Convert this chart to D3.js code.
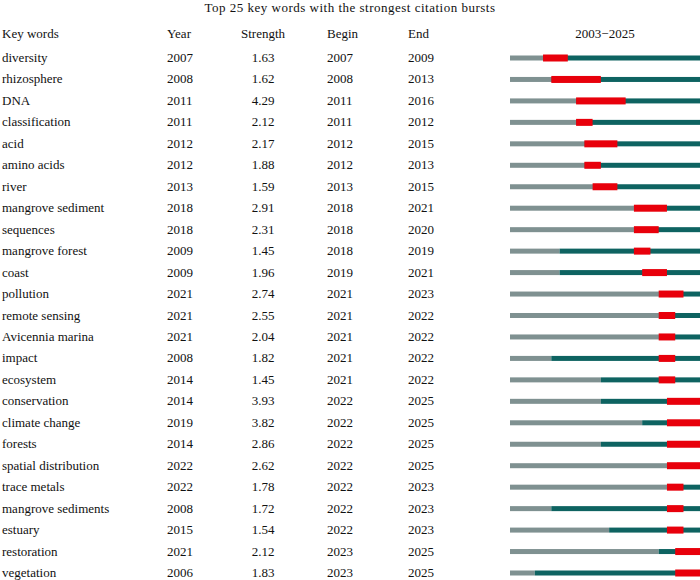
<!DOCTYPE html><html><head><meta charset="utf-8"><script src="https://cdn.jsdelivr.net/npm/d3@7"></script>
<style>body{margin:0;background:#fff}text{font-family:"Liberation Serif","Times New Roman",serif;font-size:13px;fill:#111}</style></head><body>
<script>
const keywords=["diversity","rhizosphere","DNA","classification","acid","amino acids","river","mangrove sediment","sequences","mangrove forest","coast","pollution","remote sensing","Avicennia marina","impact","ecosystem","conservation","climate change","forests","spatial distribution","trace metals","mangrove sediments","estuary","restoration","vegetation"];
const years=[2007,2008,2011,2011,2012,2012,2013,2018,2018,2009,2009,2021,2021,2021,2008,2014,2014,2019,2014,2022,2022,2008,2015,2021,2006];
const strengths=["1.63","1.62","4.29","2.12","2.17","1.88","1.59","2.91","2.31","1.45","1.96","2.74","2.55","2.04","1.82","1.45","3.93","3.82","2.86","2.62","1.78","1.72","1.54","2.12","1.83"];
const begins=[2007,2008,2011,2011,2012,2012,2013,2018,2018,2018,2019,2021,2021,2021,2021,2021,2022,2022,2022,2022,2022,2022,2022,2023,2023];
const ends=[2009,2013,2016,2012,2015,2013,2015,2021,2020,2019,2021,2023,2022,2022,2022,2022,2025,2025,2025,2025,2023,2023,2023,2025,2025];
const svg=d3.select("body").append("svg").attr("width",700).attr("height",580);
const x=d3.scaleLinear().domain([2003,2026]).range([510,700]);
const y=d3.scaleLinear().domain([0,24]).range([58,573]);
svg.append("text").attr("x",350).attr("y",12).attr("text-anchor","middle").style("letter-spacing","0.5px").text("Top 25 key words with the strongest citation bursts");
const hy=38;
[["Key words",2,"start"],["Year",167,"start"],["Strength",263,"middle"],["Begin",327,"start"],["End",408,"start"]].forEach(h=>svg.append("text").attr("x",h[1]).attr("y",hy).attr("text-anchor",h[2]).text(h[0]));
svg.append("text").attr("x",605).attr("y",hy).attr("text-anchor","middle").text("2003−2025");
const g=svg.selectAll("g.r").data(keywords).join("g");
g.each(function(k,i){
  const s=d3.select(this),yy=y(i);
  s.append("text").attr("x",2).attr("y",yy+4).text(k);
  s.append("text").attr("x",167).attr("y",yy+4).text(years[i]);
  s.append("text").attr("x",263).attr("y",yy+4).attr("text-anchor","middle").text(strengths[i]);
  s.append("text").attr("x",327).attr("y",yy+4).text(begins[i]);
  s.append("text").attr("x",408).attr("y",yy+4).text(ends[i]);
  s.append("rect").attr("x",x(2003)).attr("y",yy-2.5).attr("width",x(years[i])-x(2003)).attr("height",5).attr("fill","#7f9191");
  s.append("rect").attr("x",x(years[i])).attr("y",yy-2.5).attr("width",x(2026)-x(years[i])).attr("height",5).attr("fill","#0e6361");
  s.append("rect").attr("x",x(begins[i])).attr("y",yy-3.5).attr("width",x(ends[i]+1)-x(begins[i])).attr("height",7).attr("fill","#e8000b");
});
</script></body></html>
